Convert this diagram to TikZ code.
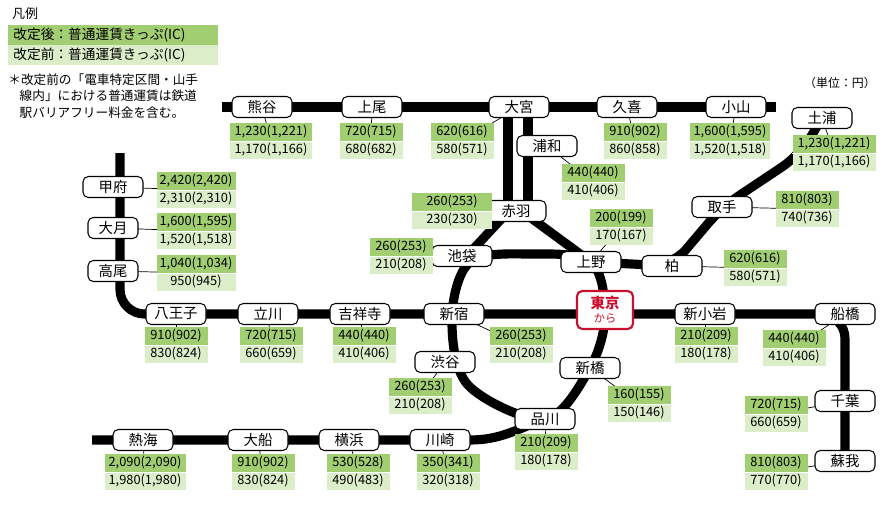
\documentclass[tikz,border=0pt]{standalone}
\usepackage{fontspec}
\setmainfont{Noto Sans CJK JP}
\usetikzlibrary{backgrounds}
\definecolor{gtop}{HTML}{A2CE72}
\definecolor{gbot}{HTML}{DCEEC9}
\definecolor{tkred}{HTML}{C8102E}
\tikzset{
 x=0.02cm,y=-0.02cm,
 stn/.style={draw,fill=white,rounded corners=3pt,line width=0.6pt,minimum width=60*0.02cm,minimum height=21*0.02cm,inner sep=1pt,font=\fontsize{8.2}{9}\selectfont},
 ftop/.style={fill=gtop,inner sep=0pt,minimum height=18*0.02cm,text height=5.4pt,text depth=1.3pt,font=\fontsize{7.3}{8}\selectfont},
 fbot/.style={fill=gbot,inner sep=0pt,minimum height=18*0.02cm,text height=5.4pt,text depth=1.3pt,font=\fontsize{7.3}{8}\selectfont},
 rail/.style={line width=5.2pt,line join=round},
 leader/.style={line width=0.4pt},
 lgrow/.style={anchor=north west,minimum width=210*0.02cm,minimum height=20*0.02cm,text width=200*0.02cm,align=left,inner xsep=5*0.02cm,inner ysep=0pt,font=\fontsize{7.8}{9}\selectfont},
}
\newcommand\fare[5][63]{%
 \node[ftop,minimum width=#1*0.02cm,anchor=south] (#2t) at #3 {#4};
 \node[fbot,minimum width=#1*0.02cm,anchor=north] (#2b) at #3 {#5};
 \draw[white,line width=0.4pt] (#2t.south west)--(#2t.south east);}
\begin{document}
\begin{tikzpicture}
\useasboundingbox (0,0) rectangle (890,511);
% legend
\node[anchor=west,font=\fontsize{7.4}{8}\selectfont] (lg) at (6,14) {凡例};
\node[lgrow,fill=gtop] (lgt) at (8,25) {改定後：普通運賃きっぷ(IC)};
\node[lgrow,fill=gbot] (lgb) at (8,45) {改定前：普通運賃きっぷ(IC)};
\node[anchor=north west,align=left,inner sep=0pt,font=\fontsize{7.2}{9.4}\selectfont] (note) at (8,73) {＊改定前の「電車特定区間・山手\\\hspace*{0.9em}線内」における普通運賃は鉄道\\\hspace*{0.9em}駅バリアフリー料金を含む。};
\node[font=\fontsize{6.8}{7}\selectfont] (unit) at (840,83) {（単位：円）};
% stations
\node[stn] (kumagaya) at (262,107) {熊谷};
\node[stn] (ageo) at (372,107) {上尾};
\node[stn] (omiya) at (519,107) {大宮};
\node[stn] (kuki) at (627,107) {久喜};
\node[stn] (oyama) at (736,107) {小山};
\node[stn] (tsuchiura) at (822,118) {土浦};
\node[stn] (urawa) at (547,146) {浦和};
\node[stn] (akabane) at (516,211) {赤羽};
\node[stn] (toride) at (722,207) {取手};
\node[stn] (ikebukuro) at (462,256) {池袋};
\node[stn] (ueno) at (591,262) {上野};
\node[stn] (kashiwa) at (672,266) {柏};
\node[stn] (kofu) at (113,187) {甲府};
\node[stn,minimum width=50*0.02cm] (otsuki) at (113,228) {大月};
\node[stn,minimum width=50*0.02cm] (takao) at (113,271) {高尾};
\node[stn] (hachioji) at (176,314) {八王子};
\node[stn] (tachikawa) at (268,314) {立川};
\node[stn] (kichijoji) at (360,314) {吉祥寺};
\node[stn] (shinjuku) at (454,314) {新宿};
\node[draw=tkred,line width=1.2pt,fill=white,rounded corners=3pt,minimum width=56*0.02cm,minimum height=38*0.02cm,inner sep=1pt,align=center,text=tkred,font=\fontsize{8.2}{9}\selectfont] (tokyo) at (605,310) {\textbf{東京}\\[-1pt]{\fontsize{6.4}{7}\selectfont から}};
\node[stn] (shinkoiwa) at (705,314) {新小岩};
\node[stn] (funabashi) at (845,314) {船橋};
\node[stn] (shibuya) at (445,362) {渋谷};
\node[stn] (shimbashi) at (590,368) {新橋};
\node[stn] (shinagawa) at (545,419) {品川};
\node[stn] (chiba) at (845,401) {千葉};
\node[stn] (soga) at (845,461) {蘇我};
\node[stn] (atami) at (143,440) {熱海};
\node[stn] (ofuna) at (258,440) {大船};
\node[stn] (yokohama) at (349,440) {横浜};
\node[stn] (kawasaki) at (440,440) {川崎};
% fares
\fare[82]{fkumagaya}{(271,141)}{1,230(1,221)}{1,170(1,166)}
\fare{fageo}{(371,141)}{720(715)}{680(682)}
\fare{fomiya}{(462,141)}{620(616)}{580(571)}
\fare{fkuki}{(635,141)}{910(902)}{860(858)}
\fare[80]{foyama}{(730,141)}{1,600(1,595)}{1,520(1,518)}
\fare[83]{ftsuchiura}{(834,153)}{1,230(1,221)}{1,170(1,166)}
\fare{furawa}{(593,182)}{440(440)}{410(406)}
\fare[79]{fkofu}{(196,190)}{2,420(2,420)}{2,310(2,310)}
\fare[79]{fotsuki}{(196,231)}{1,600(1,595)}{1,520(1,518)}
\fare[79]{ftakao}{(196,273)}{1,040(1,034)}{950(945)}
\fare[80]{fakabane}{(452,211)}{260(253)}{230(230)}
\fare{fikebukuro}{(401,256)}{260(253)}{210(208)}
\fare{fueno}{(621,227)}{200(199)}{170(167)}
\fare{ftoride}{(807,209)}{810(803)}{740(736)}
\fare{fkashiwa}{(755,268)}{620(616)}{580(571)}
\fare{fhachioji}{(176,345)}{910(902)}{830(824)}
\fare{ftachikawa}{(271,345)}{720(715)}{660(659)}
\fare{fkichijoji}{(364,345)}{440(440)}{410(406)}
\fare{fshinjuku}{(521,345)}{260(253)}{210(208)}
\fare{fshinkoiwa}{(706,345)}{210(209)}{180(178)}
\fare{ffunabashi}{(794,348)}{440(440)}{410(406)}
\fare{fshibuya}{(420,396)}{260(253)}{210(208)}
\fare{fshimbashi}{(639,404)}{160(155)}{150(146)}
\fare{fshinagawa}{(546,452)}{210(209)}{180(178)}
\fare{fchiba}{(776,414)}{720(715)}{660(659)}
\fare{fsoga}{(776,472)}{810(803)}{770(770)}
\fare[81]{fatami}{(145,472)}{2,090(2,090)}{1,980(1,980)}
\fare{fofuna}{(263,472)}{910(902)}{830(824)}
\fare{fyokohama}{(358,472)}{530(528)}{490(483)}
\fare{fkawasaki}{(448,472)}{350(341)}{320(318)}
\begin{scope}[on background layer]
\draw[rail] (222,107) -- (776,107);
\draw[rail,rounded corners=14pt] (120,153) -- (120,314) -- (845,314) -- (845,470);
\draw[rail] (92,440) -- (470,440) to[out=0,in=200] (shinagawa.center);
\draw[rail] (508,107) -- (508,211);
\draw[rail] (528,107) -- (528,211);
\draw[rail] (505,215) -- (465,258);
\draw[rail] (527,215) -- (ueno.center);
\draw[rail,rounded corners=12pt] (ueno.center) -- (672,266) -- (722,207) -- (800,155) -- (822,118);
\draw[rail] plot[smooth cycle,tension=0.55] coordinates {(591,262) (605,315) (590,368) (545,419) (468,385) (452,318) (470,262) (530,254)};
% leaders
\foreach \s/\f in {kumagaya/fkumagaya,ageo/fageo,omiya/fomiya,kuki/fkuki,oyama/foyama,tsuchiura/ftsuchiura,urawa/furawa,kofu/fkofu,otsuki/fotsuki,takao/ftakao,akabane/fakabane,ikebukuro/fikebukuro,ueno/fueno,toride/ftoride,kashiwa/fkashiwa,hachioji/fhachioji,tachikawa/ftachikawa,kichijoji/fkichijoji,shinjuku/fshinjuku,shinkoiwa/fshinkoiwa,funabashi/ffunabashi,shibuya/fshibuya,shimbashi/fshimbashi,shinagawa/fshinagawa,chiba/fchiba,soga/fsoga,atami/fatami,ofuna/fofuna,yokohama/fyokohama,kawasaki/fkawasaki}
  \draw[leader] (\s.center) -- (\f t.south);
\end{scope}
\end{tikzpicture}
\end{document}
